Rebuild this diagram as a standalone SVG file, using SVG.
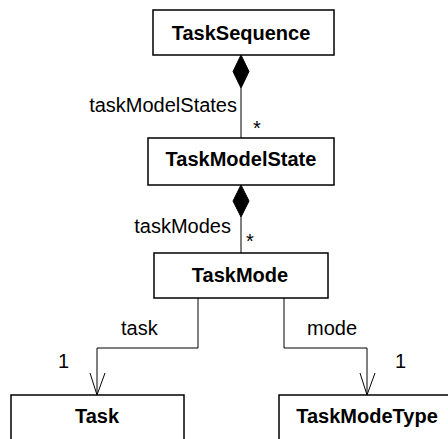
<svg xmlns="http://www.w3.org/2000/svg" width="448" height="439" viewBox="0 0 448 439">
<style>
.box{fill:#fff;stroke:#000;stroke-width:1.5}
.cls{font-family:"Liberation Sans",Arial,sans-serif;font-size:20px;font-weight:bold;fill:#000;text-anchor:middle}
.lbl{font-family:"Liberation Sans",Arial,sans-serif;font-size:20px;fill:#000}
.ln{fill:none;stroke:#000;stroke-width:1}
.dia{fill:#000;stroke:#000;stroke-width:1}
</style>
<rect width="448" height="439" fill="#fff"/>
<g id="connectors">
<line class="ln" x1="241" y1="88" x2="241" y2="138"/>
<polygon class="dia" points="241,55 249,71.5 241,88 233,71.5"/>
<line class="ln" x1="241" y1="217" x2="241" y2="253"/>
<polygon class="dia" points="241,185 249,201 241,217 233,201"/>
<polyline class="ln" points="198,298 198,348 97,348 97,395"/>
<polyline class="ln" points="90,373 97,395 105,373"/>
<polyline class="ln" points="284,298 284,348 367,348 367,395"/>
<polyline class="ln" points="360,373 367,395 375,373"/>
<text class="lbl" x="237" y="112" text-anchor="end">taskModelStates</text>
<text class="lbl" x="253" y="135">*</text>
<text class="lbl" x="231" y="233" text-anchor="end">taskModes</text>
<text class="lbl" x="246" y="248">*</text>
<text class="lbl" x="121" y="335">task</text>
<text class="lbl" x="307" y="335">mode</text>
<text class="lbl" x="58" y="368">1</text>
<text class="lbl" x="395" y="368">1</text>
</g>
<g id="TaskSequence">
<rect class="box" x="153" y="10" width="181" height="45"/>
<text class="cls" x="241" y="40">TaskSequence</text>
</g>
<g id="TaskModelState">
<rect class="box" x="148" y="138" width="186" height="47"/>
<text class="cls" x="241" y="166">TaskModelState</text>
</g>
<g id="TaskMode">
<rect class="box" x="154" y="253" width="174" height="45"/>
<text class="cls" x="240" y="282">TaskMode</text>
</g>
<g id="Task">
<rect class="box" x="11" y="395" width="173" height="60"/>
<text class="cls" x="97" y="423">Task</text>
</g>
<g id="TaskModeType">
<rect class="box" x="279" y="395" width="200" height="60"/>
<text class="cls" x="367" y="423">TaskModeType</text>
</g>
</svg>
